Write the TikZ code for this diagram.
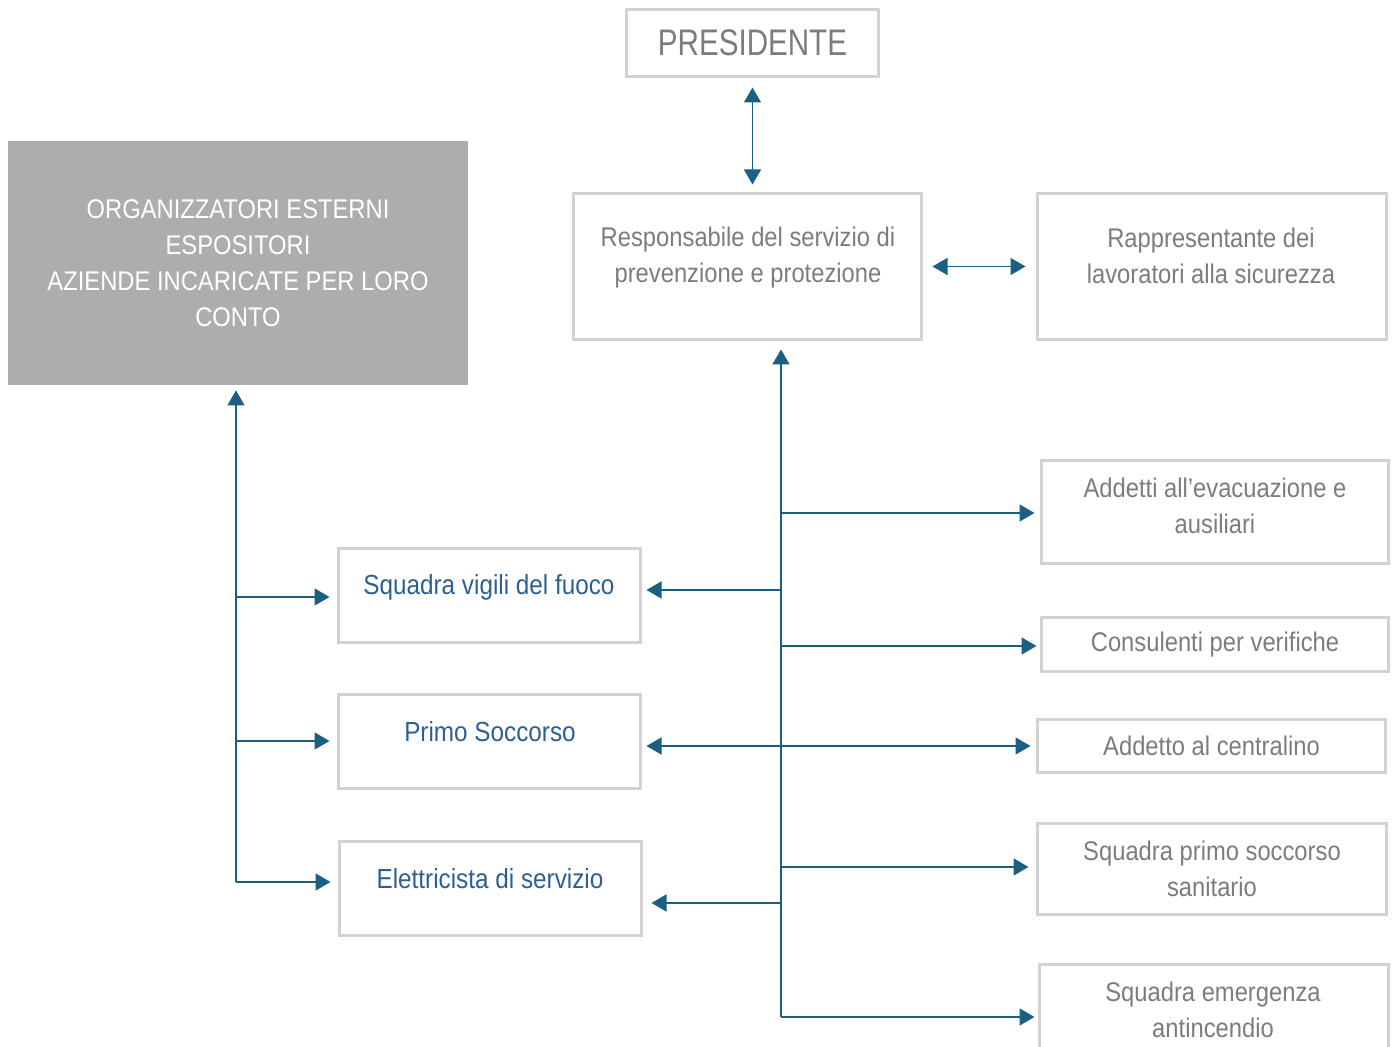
\documentclass[tikz,border=0pt]{standalone}
\usepackage{fontspec}
\setmainfont[FakeStretch=0.88]{Liberation Sans}
\newfontfamily\presfont[FakeStretch=0.8]{Liberation Sans}
\usetikzlibrary{arrows.meta}
\definecolor{arrc}{HTML}{1B5F83}
\definecolor{boxc}{HTML}{D2D2D2}
\definecolor{txtg}{HTML}{7C7C7C}
\definecolor{txtb}{HTML}{2D5F95}
\definecolor{orgc}{HTML}{ADADAD}
\begin{document}
\begin{tikzpicture}[x=0.5pt,y=-0.5pt,
  box/.style={draw=boxc,line width=1.5pt,rectangle,inner sep=0pt},
  gtxt/.style={text=txtg,font=\fontsize{13.5}{18}\selectfont,align=center,inner sep=0pt},
  btxt/.style={text=txtb,font=\fontsize{13.8}{18}\selectfont,align=center,inner sep=0pt},
  conn/.style={draw=arrc,line width=0.8pt},
  tip/.style={-{Triangle[length=7.5pt,width=8.5pt]}},
  both/.style={{Triangle[length=7.5pt,width=8.5pt]}-{Triangle[length=7.5pt,width=8.5pt]}}]
\useasboundingbox (0,0) rectangle (1394,1047);
\clip (0,0) rectangle (1394,1047);
% boxes
\node[box,minimum width=126pt,minimum height=33.5pt,text=txtg,font=\presfont\fontsize{18.5}{20}\selectfont] (pres) at (752.5,43) {PRESIDENTE};
\node[fill=orgc,minimum width=230pt,minimum height=122pt,inner sep=0pt,text=white,font=\fontsize{13.5}{18}\selectfont,align=center] (org) at (238,263) {ORGANIZZATORI ESTERNI\\ESPOSITORI\\AZIENDE INCARICATE PER LORO\\CONTO};
\node[box,minimum width=174pt,minimum height=73pt] (resp) at (747.5,266.5) {};
\node[box,minimum width=174.5pt,minimum height=73pt] (rapp) at (1212,266.5) {};
\node[box,minimum width=173.5pt,minimum height=51.5pt] (evac) at (1215,512) {};
\node[box,minimum width=173.5pt,minimum height=27pt,gtxt] (cons) at (1215,645) {Consulenti per verifiche};
\node[box,minimum width=174pt,minimum height=26.5pt,gtxt] (cent) at (1211.5,746) {Addetto al centralino};
\node[box,minimum width=174.5pt,minimum height=45.5pt] (sps) at (1212,869) {};
\node[box,minimum width=174.5pt,minimum height=57pt] (sea) at (1214,1021.5) {};
\node[box,minimum width=151pt,minimum height=47pt] (vig) at (489.5,595.5) {};
\node[box,minimum width=151pt,minimum height=47pt] (ps) at (489.5,741.5) {};
\node[box,minimum width=151pt,minimum height=47pt] (ele) at (490.5,888.5) {};
% texts
\node[gtxt] (resp-t) at (748,257.5) {Responsabile del servizio di\\prevenzione e protezione};
\node[gtxt] (rapp-t) at (1211,256) {Rappresentante dei\\lavoratori alla sicurezza};
\node[gtxt] (evac-t) at (1215,505.5) {Addetti all’evacuazione e\\ausiliari};
\node[gtxt] (sps-t) at (1212,868.5) {Squadra primo soccorso\\sanitario};
\node[gtxt] (sea-t) at (1213,1009.5) {Squadra emergenza\\antincendio};
\node[btxt] (vig-t) at (489,587) {Squadra vigili del fuoco};
\node[btxt] (ps-t) at (490,732) {Primo Soccorso};
\node[btxt] (ele-t) at (490,879) {Elettricista di servizio};
% top connectors
\draw[conn,both,shorten <=4.75pt,shorten >=3.75pt] (pres.south) -- (pres.south |- resp.north);
\draw[conn,both,shorten <=4.75pt,shorten >=5.25pt] (resp.east) -- (rapp.west);
% right trunk
\coordinate (tb) at (781,1017);
\coordinate (r1) at (781,513);
\coordinate (r2) at (781,590);
\coordinate (r3) at (781,646);
\coordinate (r4) at (781,746);
\coordinate (r5) at (781,867);
\coordinate (r6) at (781,903);
\draw[conn,tip,shorten >=4.25pt] (tb) -- (tb |- resp.south);
\draw[conn,tip,shorten >=2.75pt] (r1) -- (r1 -| evac.west);
\draw[conn,tip,shorten >=2.25pt] (r2) -- (r2 -| vig.east);
\draw[conn,tip,shorten >=1.75pt] (r3) -- (r3 -| cons.west);
\draw[conn,both,shorten <=2.25pt,shorten >=2.75pt] (r4 -| ps.east) -- (r4 -| cent.west);
\draw[conn,tip,shorten >=3.75pt] (r5) -- (r5 -| sps.west);
\draw[conn,tip,shorten >=4.25pt] (r6) -- (r6 -| ele.east);
\draw[conn,tip,shorten >=1.75pt] (tb) -- (tb -| sea.west);
% left trunk
\coordinate (lb) at (236,882);
\coordinate (l1) at (236,597);
\coordinate (l2) at (236,741);
\draw[conn,tip,shorten >=2.5pt] (lb) -- (lb |- org.south);
\draw[conn,tip,shorten >=3.75pt] (l1) -- (l1 -| vig.west);
\draw[conn,tip,shorten >=3.75pt] (l2) -- (l2 -| ps.west);
\draw[conn,tip,shorten >=3.75pt] (lb) -- (lb -| ele.west);
\end{tikzpicture}
\end{document}
